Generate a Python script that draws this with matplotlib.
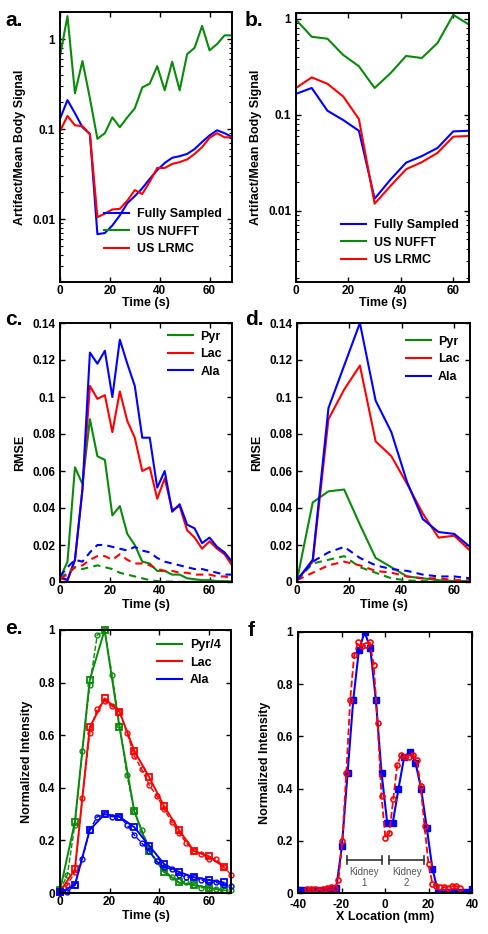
import matplotlib
matplotlib.use("Agg")
import matplotlib.pyplot as plt
from matplotlib.lines import Line2D

plt.rcParams['font.family'] = ['Liberation Sans', 'DejaVu Sans']
plt.rcParams['font.weight'] = 'bold'
plt.rcParams['axes.labelweight'] = 'bold'
plt.rcParams['axes.unicode_minus'] = False

BLUE = '#0000ff'
GREEN = '#0a8a0a'
RED = '#ff0000'

# ---- panel a: artifact ratio, 3 s frames ----
t_a = [0, 3, 6, 9, 12, 15, 18, 21, 24, 27, 30, 33, 36, 39, 42, 45, 48, 51, 54, 57, 60, 63, 66, 69]
a_full = [0.13, 0.21, 0.15, 0.105, 0.088, 0.0068, 0.007, 0.0085, 0.011, 0.015, 0.018, 0.022,
          0.028, 0.035, 0.042, 0.048, 0.050, 0.053, 0.060, 0.072, 0.085, 0.097, 0.090, 0.082]
a_nufft = [0.65, 1.8, 0.25, 0.57, 0.22, 0.078, 0.09, 0.135, 0.105, 0.135, 0.17, 0.29,
           0.32, 0.50, 0.27, 0.56, 0.27, 0.68, 0.80, 1.4, 0.75, 0.88, 1.1, 1.1]
a_lrmc = [0.095, 0.14, 0.11, 0.108, 0.088, 0.0105, 0.0115, 0.0128, 0.013, 0.016, 0.021, 0.019,
          0.026, 0.037, 0.037, 0.041, 0.043, 0.046, 0.053, 0.063, 0.080, 0.090, 0.081, 0.081]

# ---- panel b: artifact ratio, 6 s frames ----
t_b = [0, 6, 12, 18, 24, 30, 36, 42, 48, 54, 60, 66]
b_full = [0.165, 0.19, 0.11, 0.088, 0.068, 0.0133, 0.021, 0.0316, 0.037, 0.045, 0.067, 0.068]
b_nufft = [0.98, 0.65, 0.62, 0.42, 0.32, 0.19, 0.27, 0.41, 0.39, 0.56, 1.1, 0.87]
b_lrmc = [0.19, 0.245, 0.21, 0.155, 0.09, 0.0118, 0.018, 0.027, 0.032, 0.040, 0.059, 0.060]

# ---- panel c: RMSE, 3 s frames (solid = NUFFT, dashed = LRMC) ----
c_pyr = [0.002, 0.011, 0.062, 0.053, 0.088, 0.068, 0.066, 0.036, 0.041, 0.026, 0.020, 0.011,
         0.010, 0.006, 0.006, 0.004, 0.004, 0.002, 0.0015, 0.001, 0.001, 0.0005, 0.0005, 0.0003]
c_lac = [0.002, 0.001, 0.012, 0.050, 0.106, 0.099, 0.101, 0.081, 0.103, 0.087, 0.078, 0.060,
         0.062, 0.045, 0.056, 0.039, 0.041, 0.028, 0.024, 0.018, 0.022, 0.018, 0.015, 0.009]
c_ala = [0.003, 0.001, 0.012, 0.050, 0.124, 0.118, 0.125, 0.100, 0.131, 0.118, 0.106, 0.078,
         0.078, 0.051, 0.060, 0.038, 0.042, 0.031, 0.029, 0.021, 0.024, 0.019, 0.016, 0.011]
c_pyr_lr = [0.002, 0.005, 0.008, 0.007, 0.008, 0.009, 0.008, 0.007, 0.005, 0.004, 0.003, 0.002,
            0.001, 0.0005, 0.0003, 0.0002, 0.0001, 0.0001, 0.0001, 0.0, 0.0, 0.0, 0.0, 0.0]
c_lac_lr = [0.002, 0.004, 0.008, 0.009, 0.012, 0.014, 0.014, 0.012, 0.015, 0.012, 0.010, 0.010,
            0.009, 0.007, 0.006, 0.006, 0.005, 0.005, 0.004, 0.004, 0.004, 0.003, 0.003, 0.002]
c_ala_lr = [0.003, 0.008, 0.012, 0.011, 0.016, 0.020, 0.020, 0.019, 0.018, 0.017, 0.019, 0.017,
            0.016, 0.013, 0.011, 0.010, 0.009, 0.008, 0.007, 0.007, 0.006, 0.005, 0.004, 0.004]

# ---- panel d: RMSE, 6 s frames ----
d_pyr = [0.001, 0.043, 0.049, 0.050, 0.031, 0.013, 0.008, 0.003, 0.002, 0.001, 0.0005, 0.0005]
d_lac = [0.001, 0.011, 0.088, 0.104, 0.117, 0.076, 0.068, 0.053, 0.037, 0.024, 0.025, 0.017]
d_ala = [0.001, 0.012, 0.094, 0.117, 0.140, 0.098, 0.081, 0.054, 0.034, 0.027, 0.026, 0.019]
d_pyr_lr = [0.001, 0.010, 0.012, 0.014, 0.008, 0.005, 0.002, 0.0008, 0.0005, 0.0003, 0.0002, 0.0002]
d_lac_lr = [0.001, 0.005, 0.009, 0.011, 0.009, 0.006, 0.005, 0.003, 0.002, 0.002, 0.001, 0.001]
d_ala_lr = [0.001, 0.011, 0.016, 0.019, 0.013, 0.009, 0.007, 0.006, 0.004, 0.003, 0.003, 0.002]

# ---- panel e: time curves (squares = fully sampled 6 s, circles = LRMC 3 s) ----
e_pyr_sq = [0.01, 0.27, 0.81, 1.0, 0.63, 0.31, 0.16, 0.08, 0.04, 0.03, 0.02, 0.01]
e_lac_sq = [0.005, 0.09, 0.63, 0.74, 0.69, 0.54, 0.44, 0.33, 0.24, 0.16, 0.14, 0.10]
e_ala_sq = [0.003, 0.03, 0.24, 0.30, 0.29, 0.25, 0.18, 0.11, 0.08, 0.06, 0.05, 0.04]
e_pyr_ci = [0.01, 0.07, 0.26, 0.54, 0.79, 0.98, 1.0, 0.83, 0.64, 0.45, 0.31, 0.24,
            0.17, 0.12, 0.09, 0.06, 0.05, 0.04, 0.03, 0.02, 0.02, 0.015, 0.01, 0.01]
e_lac_ci = [0.005, 0.03, 0.08, 0.36, 0.61, 0.70, 0.73, 0.71, 0.69, 0.61, 0.52, 0.47,
            0.41, 0.37, 0.32, 0.27, 0.23, 0.19, 0.16, 0.15, 0.13, 0.13, 0.10, 0.07]
e_ala_ci = [0.003, 0.005, 0.03, 0.13, 0.24, 0.29, 0.30, 0.29, 0.29, 0.26, 0.22, 0.19,
            0.16, 0.12, 0.10, 0.09, 0.07, 0.06, 0.06, 0.05, 0.04, 0.04, 0.03, 0.025]

# ---- panel f: spatial profile ----
f_x_full = [-40.6, -38.0, -35.4, -32.8, -30.2, -27.6, -25.0, -22.4, -19.8, -17.2, -14.6, -12.0,
            -9.4, -6.8, -4.2, -1.6, 1.0, 3.6, 6.2, 8.8, 11.4, 14.0, 16.6, 19.2, 21.8, 24.4,
            27.0, 29.6, 32.2, 34.8, 37.4, 40.0]
f_full = [0.01, 0.01, 0.01, 0.01, 0.01, 0.01, 0.015, 0.02, 0.18, 0.46, 0.74, 0.93,
          1.0, 0.94, 0.74, 0.46, 0.27, 0.27, 0.40, 0.52, 0.54, 0.50, 0.40, 0.25, 0.093, 0.005,
          0.003, 0.005, 0.005, 0.005, 0.005, 0.015]
f_x_lrmc = [-35.8, -34.0, -32.2, -30.4, -28.6, -26.8, -25.0, -23.2, -21.4, -19.6, -17.8, -16.0,
            -14.2, -12.4, -10.6, -8.8, -7.0, -5.2, -3.4, -1.6, 0.2, 2.0, 3.8, 5.6, 7.4, 9.2,
            11.0, 12.8, 14.6, 16.4, 18.2, 20.0, 21.8, 23.6, 25.4, 27.2, 29.0, 30.8, 32.6, 34.4]
f_lrmc = [0.015, 0.015, 0.015, 0.012, 0.015, 0.02, 0.022, 0.02, 0.05, 0.20, 0.46, 0.74,
          0.91, 0.96, 0.945, 0.95, 0.96, 0.875, 0.65, 0.37, 0.21, 0.23, 0.36, 0.49, 0.53, 0.52,
          0.52, 0.53, 0.51, 0.41, 0.255, 0.11, 0.036, 0.026, 0.023, 0.023, 0.02, 0.026, 0.026, 0.02]
kidney_spans = [(-17.5, -1.5), (2.0, 18.0)]
kidney_names = ['Kidney\n1', 'Kidney\n2']

t_c = t_a
t_d = t_b

W, H = 488, 934
fig = plt.figure(figsize=(W / 100, H / 100), dpi=100)


def make_ax(left, top, right, bottom):
    ax = fig.add_axes([left / W, 1 - bottom / H, (right - left) / W, (bottom - top) / H])
    ax.tick_params(direction='in', top=True, right=True, labelsize=8.5, length=3.5, width=1)
    ax.tick_params(axis='x', pad=2.5)
    ax.tick_params(which='minor', direction='in', top=True, right=True, length=2, width=0.8)
    for s in ax.spines.values():
        s.set_linewidth(1.4)
    return ax


def add_legend(ax, anchor, loc, handles=None, labels=None):
    kw = dict(loc=loc, bbox_to_anchor=anchor, frameon=False, fontsize=9, handlelength=2.0,
              handletextpad=0.6, borderaxespad=0.0, labelspacing=0.45)
    if handles is None:
        ax.legend(**kw)
    else:
        ax.legend(handles, labels, **kw)


lw = 1.5
dash = (0, (3.5, 2.5))

# panel a
ax = make_ax(60, 12, 232, 282)
ax.plot(t_a, a_full, color=BLUE, lw=lw, label='Fully Sampled')
ax.plot(t_a, a_nufft, color=GREEN, lw=lw, label='US NUFFT')
ax.plot(t_a, a_lrmc, color=RED, lw=lw, label='US LRMC')
ax.set_yscale('log')
ax.set_ylim(0.002, 2)
ax.set_xlim(0, 69)
ax.set_yticks([0.01, 0.1, 1])
ax.set_yticklabels(['0.01', '0.1', '1'])
ax.set_xticks([0, 20, 40, 60])
ax.set_ylabel('Artifact/Mean Body Signal', fontsize=9)
ax.set_xlabel('Time (s)', fontsize=9, labelpad=0)
add_legend(ax, (0.97, 0.08), 'lower right')
fig.text(5 / W, 1 - 20 / H, 'a.', fontsize=15, fontweight='bold', va='center')

# panel b
ax = make_ax(296, 13, 469, 282)
ax.plot(t_b, b_full, color=BLUE, lw=lw, label='Fully Sampled')
ax.plot(t_b, b_nufft, color=GREEN, lw=lw, label='US NUFFT')
ax.plot(t_b, b_lrmc, color=RED, lw=lw, label='US LRMC')
ax.set_yscale('log')
ax.set_ylim(0.0018, 1.15)
ax.set_xlim(0, 66)
ax.set_yticks([0.01, 0.1, 1])
ax.set_yticklabels(['0.01', '0.1', '1'])
ax.set_xticks([0, 20, 40, 60])
ax.set_ylabel('Artifact/Mean Body Signal', fontsize=9)
ax.set_xlabel('Time (s)', fontsize=9, labelpad=0)
add_legend(ax, (0.97, 0.04), 'lower right')
fig.text(245 / W, 1 - 20 / H, 'b.', fontsize=15, fontweight='bold', va='center')

rmse_ticks = [0, 0.02, 0.04, 0.06, 0.08, 0.1, 0.12, 0.14]
rmse_labels = ['0', '0.02', '0.04', '0.06', '0.08', '0.1', '0.12', '0.14']

# panel c
ax = make_ax(60, 323, 232, 582)
ax.plot(t_c, c_pyr, color=GREEN, lw=lw, label='Pyr')
ax.plot(t_c, c_lac, color=RED, lw=lw, label='Lac')
ax.plot(t_c, c_ala, color=BLUE, lw=lw, label='Ala')
ax.plot(t_c, c_pyr_lr, color=GREEN, lw=lw, ls=dash)
ax.plot(t_c, c_lac_lr, color=RED, lw=lw, ls=dash)
ax.plot(t_c, c_ala_lr, color=BLUE, lw=lw, ls=dash)
ax.set_ylim(0, 0.14)
ax.set_xlim(0, 69)
ax.set_yticks(rmse_ticks)
ax.set_yticklabels(rmse_labels)
ax.set_xticks([0, 20, 40, 60])
ax.set_ylabel('RMSE', fontsize=9)
ax.set_xlabel('Time (s)', fontsize=9, labelpad=1)
add_legend(ax, (0.97, 0.99), 'upper right')
fig.text(5 / W, 1 - 320 / H, 'c.', fontsize=15, fontweight='bold', va='center')

# panel d
ax = make_ax(297, 323, 470, 582)
ax.plot(t_d, d_pyr, color=GREEN, lw=lw, label='Pyr')
ax.plot(t_d, d_lac, color=RED, lw=lw, label='Lac')
ax.plot(t_d, d_ala, color=BLUE, lw=lw, label='Ala')
ax.plot(t_d, d_pyr_lr, color=GREEN, lw=lw, ls=dash)
ax.plot(t_d, d_lac_lr, color=RED, lw=lw, ls=dash)
ax.plot(t_d, d_ala_lr, color=BLUE, lw=lw, ls=dash)
ax.set_ylim(0, 0.14)
ax.set_xlim(0, 66)
ax.set_yticks(rmse_ticks)
ax.set_yticklabels(rmse_labels)
ax.set_xticks([0, 20, 40, 60])
ax.set_ylabel('RMSE', fontsize=9)
ax.set_xlabel('Time (s)', fontsize=9, labelpad=1)
add_legend(ax, (0.97, 0.97), 'upper right')
fig.text(245 / W, 1 - 320 / H, 'd.', fontsize=15, fontweight='bold', va='center')

norm_ticks = [0, 0.2, 0.4, 0.6, 0.8, 1]
norm_labels = ['0', '0.2', '0.4', '0.6', '0.8', '1']

# panel e
ax = make_ax(60, 630, 231, 893)
for sq, ci, col in [(e_pyr_sq, e_pyr_ci, GREEN), (e_lac_sq, e_lac_ci, RED), (e_ala_sq, e_ala_ci, BLUE)]:
    ax.plot(t_d, sq, color=col, lw=1.4, marker='s', ms=3.8, mfc='none', mew=1.3, clip_on=False)
    ax.plot(t_c, ci, color=col, lw=1.0, ls='--', marker='o', ms=3.5, mfc='none', mew=1.0, clip_on=False)
handles = [Line2D([], [], color=GREEN, lw=lw), Line2D([], [], color=RED, lw=lw),
           Line2D([], [], color=BLUE, lw=lw)]
add_legend(ax, (0.97, 0.985), 'upper right', handles, ['Pyr/4', 'Lac', 'Ala'])
ax.set_ylim(0, 1)
ax.set_xlim(0, 69)
ax.set_yticks(norm_ticks)
ax.set_yticklabels(norm_labels)
ax.set_xticks([0, 20, 40, 60])
ax.set_ylabel('Normalized Intensity', fontsize=9)
ax.set_xlabel('Time (s)', fontsize=9, labelpad=1)
fig.text(5 / W, 1 - 628 / H, 'e.', fontsize=15, fontweight='bold', va='center')

# panel f
ax = make_ax(298, 632, 472, 893)
ax.tick_params(axis='x', pad=4)
ax.plot(f_x_full, f_full, color=BLUE, lw=1.5, marker='s', ms=4.2, mfc=BLUE, mec=BLUE)
ax.plot(f_x_lrmc, f_lrmc, color=RED, lw=1.3, ls='--', marker='o', ms=3.6, mfc='none', mew=1.2)
for (x0, x1), name in zip(kidney_spans, kidney_names):
    ax.plot([x0, x1], [0.125, 0.125], color='#333333', lw=1.2)
    ax.plot([x0, x0], [0.11, 0.14], color='#333333', lw=1.2)
    ax.plot([x1, x1], [0.11, 0.14], color='#333333', lw=1.2)
    ax.text((x0 + x1) / 2, 0.1, name, ha='center', va='top', fontsize=7,
            fontweight='normal', color='#555555', linespacing=1.1)
ax.set_ylim(0, 1)
ax.set_xlim(-40, 40)
ax.set_yticks(norm_ticks)
ax.set_yticklabels(norm_labels)
ax.set_xticks([-40, -20, 0, 20, 40])
ax.set_ylabel('Normalized Intensity', fontsize=9)
ax.set_xlabel('X Location (mm)', fontsize=9, labelpad=0)
fig.text(248 / W, 1 - 630 / H, 'f', fontsize=15, fontweight='bold', va='center')

fig.savefig('out.png', dpi=100)
